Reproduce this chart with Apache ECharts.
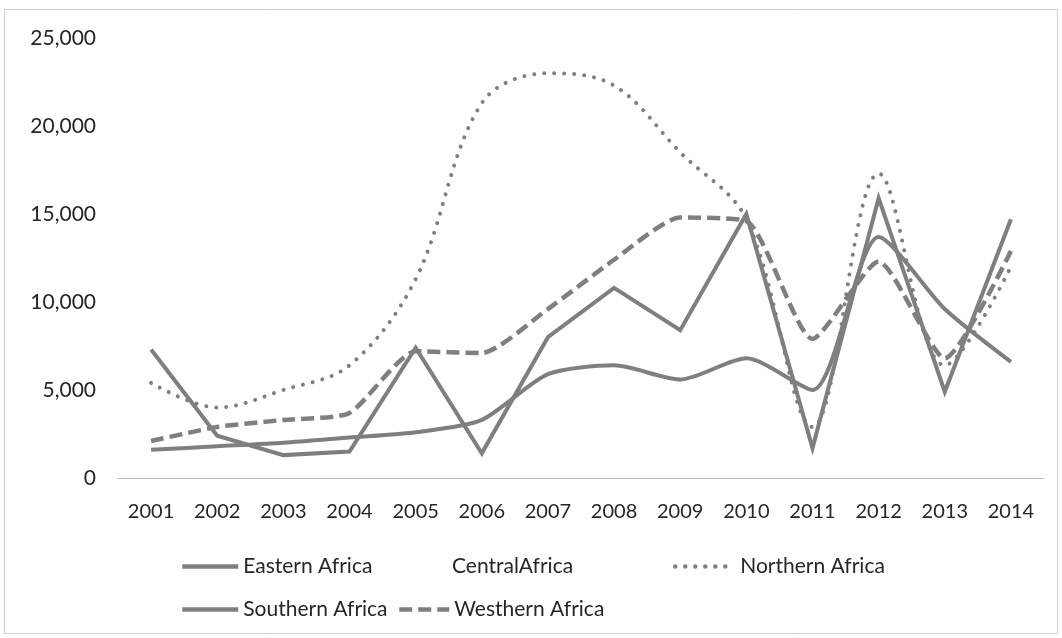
<!DOCTYPE html>
<html>
<head>
<meta charset="utf-8">
<script src="https://cdn.jsdelivr.net/npm/echarts@6/dist/echarts.min.js"></script>
<style>
  html, body { margin: 0; padding: 0; background: #fff; }
  #chart { width: 1062px; height: 638px; }
</style>
</head>
<body>
<div id="chart"></div>
<script>
// Years on the category axis
const years = ['2001','2002','2003','2004','2005','2006','2007','2008','2009','2010','2011','2012','2013','2014'];

// Series values per region
const easternAfrica  = [7300, 2400, 1300, 1500, 7400, 1400, 8000, 10800, 8400, 15000, 1700, 15900, 4900, 14700];
const centralAfrica  = [null, null, null, null, null, null, null, null, null, null, null, null, null, null];
const northernAfrica = [5400, 4000, 5000, 6400, 11300, 21300, 23000, 22300, 18500, 14700, 2900, 17300, 6400, 12000];
const southernAfrica = [1600, 1800, 2000, 2300, 2600, 3300, 5900, 6400, 5600, 6800, 5000, 13700, 9600, 6600];
const westernAfrica  = [2100, 2900, 3300, 3700, 7200, 7100, 9600, 12400, 14800, 14600, 7900, 12300, 6800, 12900];

// Value axis ticks
const yTicks = [0, 5000, 10000, 15000, 20000, 25000];

const FONT = 'Lato';
const TXT = '#262626';
const LINE = '#7f7f7f';

const chart = echarts.init(document.getElementById('chart'), null, { renderer: 'canvas' });

// One legend block per entry so each sits in its own column
function legendAt(name, left, top, iconWidth, hidden) {
  return {
    data: [{
      name: name,
      itemStyle: { opacity: 0 },
      lineStyle: hidden ? { opacity: 0 } : { width: 4.5 }
    }],
    left: left, top: top,
    orient: 'horizontal',
    itemWidth: iconWidth, itemHeight: 14, itemGap: 0,
    textStyle: { fontFamily: FONT, fontSize: 21, color: TXT },
    selectedMode: false
  };
}

const option = {
  backgroundColor: '#ffffff',
  animation: false,
  grid: { left: 118, right: 18, top: 38, bottom: 160, containLabel: false },
  graphic: [{
    type: 'rect',
    shape: { x: 4.5, y: 9.5, width: 1053, height: 624 },
    style: { fill: 'none', stroke: '#d0d0d0', lineWidth: 1 },
    silent: true, z: -1
  }],
  legend: [
    legendAt('Eastern Africa', 175, 551, 56),
    legendAt('CentralAfrica', 382, 551, 60, true),
    legendAt('Northern Africa', 668, 551, 60),
    legendAt('Southern Africa', 175, 594, 56),
    legendAt('Westhern Africa', 392, 594, 50)
  ],
  xAxis: {
    type: 'category',
    data: years,
    boundaryGap: true,
    axisLine: { lineStyle: { color: '#bfbfbf', width: 1 } },
    axisTick: { show: false },
    axisLabel: { fontFamily: FONT, fontSize: 20, color: TXT, margin: 24 }
  },
  yAxis: {
    type: 'value',
    min: yTicks[0], max: yTicks[yTicks.length - 1], interval: 5000,
    axisLine: { show: false },
    axisTick: { show: false },
    splitLine: { show: false },
    axisLabel: {
      fontFamily: FONT, fontSize: 21, color: TXT, margin: 22,
      formatter: v => v.toLocaleString('en-US')
    }
  },
  series: [
    {
      name: 'Eastern Africa', type: 'line', data: easternAfrica,
      symbol: 'none', smooth: false,
      lineStyle: { color: LINE, width: 4, join: 'miter' },
      itemStyle: { color: LINE }
    },
    {
      name: 'CentralAfrica', type: 'line', data: centralAfrica,
      symbol: 'none',
      lineStyle: { color: 'rgba(0,0,0,0)', width: 0 },
      itemStyle: { color: 'rgba(0,0,0,0)' }
    },
    {
      name: 'Northern Africa', type: 'line', data: northernAfrica,
      symbol: 'none', smooth: 0.35,
      lineStyle: { color: LINE, width: 4, type: [0.01, 10], cap: 'round' },
      itemStyle: { color: LINE }
    },
    {
      name: 'Southern Africa', type: 'line', data: southernAfrica,
      symbol: 'none', smooth: 0.25,
      lineStyle: { color: LINE, width: 4 },
      itemStyle: { color: LINE }
    },
    {
      name: 'Westhern Africa', type: 'line', data: westernAfrica,
      symbol: 'none', smooth: 0.2,
      lineStyle: { color: LINE, width: 4.5, type: [13, 6], cap: 'butt' },
      itemStyle: { color: LINE }
    }
  ]
};

chart.setOption(option);
</script>
</body>
</html>
